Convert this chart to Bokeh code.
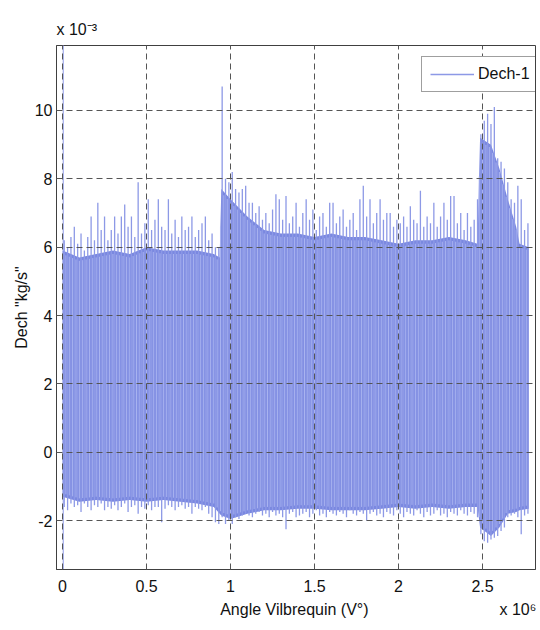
import numpy as np
from bokeh.plotting import figure
from bokeh.models import (Range1d, Legend, LegendItem, FixedTicker, LinearAxis,
                          Title)
from bokeh.embed import file_html
from bokeh.resources import INLINE

# x in units of 1e6 (deg), y in units of 1e-3 (kg/s)
x_start = 0.01
x_step = 0.02
peaks = [
    6.2, 6.0, 6.3, 6.6, 6.1, 6.4, 5.9, 6.3, 6.9, 6.2,
    7.3, 6.5, 6.9, 6.2, 6.5, 6.9, 6.4, 6.9, 7.25, 6.6,
    6.9, 6.3, 7.9, 6.4, 6.7, 7.4, 6.5, 6.8, 7.4, 6.6,
    6.5, 7.4, 6.4, 6.8, 6.3, 6.9, 6.5, 6.6, 6.9, 6.3,
    6.5, 6.7, 6.9, 6.2, 6.4, 6.0, 6.0, 10.7, 8.0, 7.9,
    8.2, 7.7, 7.6, 7.7, 7.8, 7.3, 7.3, 7.0, 7.2, 6.8,
    7.0, 6.7, 7.1, 7.55, 7.4, 6.8, 7.5, 6.7, 6.9, 7.3,
    6.6, 7.0, 7.4, 6.8, 7.1, 6.5, 6.9, 7.0, 6.6, 7.3,
    7.3, 6.7, 6.9, 7.1, 6.6, 6.8, 7.0, 6.5, 7.4, 7.8,
    6.9, 7.4, 6.7, 7.0, 7.4, 6.8, 7.0, 7.0, 6.6, 6.8,
    6.7, 6.9, 6.6, 7.2, 6.8, 6.7, 7.65, 6.6, 6.9, 6.7,
    7.3, 6.6, 6.9, 7.3, 6.8, 7.5, 7.5, 6.7, 7.0, 6.5,
    7.0, 6.6, 6.8, 7.4, 9.3, 9.7, 9.9, 9.6, 10.1, 8.6,
    8.5, 8.3, 7.9, 7.4, 7.3, 7.8, 7.4, 6.5, 6.7,
]
troughs = [
    -1.6, -1.7, -1.5, -1.6, -1.55, -1.75, -1.5, -1.6, -1.7, -1.55,
    -1.6, -1.5, -1.7, -1.6, -1.65, -1.55, -1.7, -1.6, -1.5, -1.75,
    -1.6, -1.55, -1.8, -1.6, -1.65, -1.55, -1.7, -1.6, -1.6, -2.05,
    -1.65, -1.55, -1.6, -1.7, -1.6, -1.55, -1.65, -1.6, -1.8, -1.6,
    -1.65, -1.7, -1.6, -1.8, -1.9, -2.05, -2.1, -1.9, -2.1, -2.0,
    -2.1, -1.9, -1.95, -1.85, -1.8, -1.85, -1.9, -1.8, -1.75, -1.85,
    -1.8, -1.9, -1.75, -1.85, -1.8, -1.9, -2.25, -1.8, -1.75, -1.9,
    -1.85, -1.8, -1.75, -1.9, -1.8, -1.7, -1.85, -1.8, -1.9, -1.75,
    -1.8, -1.85, -1.75, -1.8, -1.9, -1.7, -1.8, -1.85, -1.75, -1.8,
    -2.0, -1.8, -1.75, -1.85, -1.8, -1.9, -1.75, -1.8, -1.85, -1.7,
    -1.8, -1.9, -1.75, -1.8, -1.85, -1.7, -1.8, -1.9, -1.75, -1.85,
    -1.8, -1.7, -1.85, -1.8, -1.9, -1.75, -1.8, -1.85, -1.7, -1.8,
    -1.85, -1.75, -1.8, -1.9, -2.4, -2.6, -2.65, -2.55, -2.5, -2.45,
    -2.3, -2.2, -1.9, -1.85, -1.8, -1.9, -2.4, -1.85, -1.8,
]
core_x = [0.0, 0.1, 0.2, 0.3, 0.4, 0.5, 0.6, 0.7, 0.8, 0.9, 0.935, 0.945,
          1.0, 1.1, 1.2, 1.3, 1.4, 1.5, 1.6, 1.7, 1.8, 1.9, 2.0, 2.1, 2.2,
          2.3, 2.4, 2.47, 2.485, 2.55, 2.6, 2.65, 2.7, 2.72, 2.775]
core_top = [5.9, 5.7, 5.8, 5.9, 5.8, 6.0, 5.9, 5.9, 5.9, 5.8, 5.7, 7.7,
            7.4, 6.9, 6.5, 6.4, 6.4, 6.3, 6.4, 6.3, 6.3, 6.2, 6.1, 6.2, 6.2,
            6.3, 6.2, 6.1, 9.2, 9.0, 8.3, 7.4, 6.6, 6.1, 6.0]
core_bottom = [-1.3, -1.45, -1.4, -1.45, -1.4, -1.45, -1.4, -1.45, -1.5, -1.6,
               -1.8, -1.85, -1.95, -1.8, -1.7, -1.7, -1.65, -1.65, -1.7, -1.7,
               -1.7, -1.65, -1.6, -1.65, -1.6, -1.65, -1.6, -1.6, -2.2, -2.45,
               -2.2, -1.8, -1.75, -1.7, -1.65]
first_x = [0.004]
first_lo = [-6.0]
first_hi = [16.0]

x_ticks = [0, 0.5, 1, 1.5, 2, 2.5]
x_tick_labels = ["0", "0.5", "1", "1.5", "2", "2.5"]
y_ticks = [-2, 0, 2, 4, 6, 8, 10]
y_tick_labels = ["-2", "0", "2", "4", "6", "8", "10"]
x_title = "Angle Vilbrequin (V°)"
y_title = 'Dech "kg/s"'
x_multiplier = "x 10⁶"
y_multiplier = "x 10⁻³"
series_name = "Dech-1"

FONT = "Liberation Sans"
BAND = "#7a88e0"
LIGHT = "#aab4f0"
SPIKE = "#8d99e6"
AXC = "#404040"
TXT = "#111111"

p = figure(frame_width=479, frame_height=524,
           x_range=Range1d(-0.036, 2.815), y_range=Range1d(-3.43, 11.9),
           output_backend="svg", toolbar_location=None,
           min_border_left=56, min_border_right=3, min_border_top=45,
           min_border_bottom=0)
p.title.visible = False
p.background_fill_color = "white"
p.border_fill_color = "white"
p.outline_line_color = AXC
p.outline_line_width = 1

stripe_x = x_start + x_step * np.arange(len(peaks))

p.varea(x=core_x, y1=core_bottom, y2=core_top, fill_color=BAND)
gx = stripe_x + x_step / 2
gx = gx[gx < core_x[-1]]
gt = np.interp(gx, core_x, core_top) - 0.1
gb = np.interp(gx, core_x, core_bottom) + 0.1
p.segment(x0=gx, y0=gb, x1=gx, y1=gt, line_color=LIGHT, line_width=1)
spk = p.segment(x0=stripe_x, y0=troughs, x1=stripe_x, y1=peaks,
                line_color=SPIKE, line_width=1.3)
p.segment(x0=first_x, y0=first_lo, x1=first_x, y1=first_hi,
          line_color=SPIKE, line_width=1)


def style_axis(ax):
    ax.minor_tick_line_color = None
    ax.axis_line_color = AXC
    ax.major_tick_line_color = AXC
    ax.major_tick_in = 4
    ax.major_tick_out = 0
    ax.major_label_text_font = FONT
    ax.major_label_text_font_size = "16px"
    ax.major_label_text_color = TXT
    ax.axis_label_text_font = FONT
    ax.axis_label_text_font_size = "16px"
    ax.axis_label_text_font_style = "normal"
    ax.axis_label_text_color = TXT


for ax, ticks, labels in ((p.xaxis[0], x_ticks, x_tick_labels),
                          (p.yaxis[0], y_ticks, y_tick_labels)):
    ax.ticker = FixedTicker(ticks=ticks)
    ax.major_label_overrides = {t: l for t, l in zip(ticks, labels)}
    style_axis(ax)

p.xaxis[0].major_label_standoff = 10
p.yaxis[0].axis_label = y_title
p.yaxis[0].major_label_standoff = 4
p.yaxis[0].axis_label_standoff = 2

# second row under the x axis: axis title (centred) and the x 10^6 multiplier
x_title_pos = 1.38
x_mult_pos = 2.71
row2 = LinearAxis(ticker=FixedTicker(ticks=[x_title_pos, x_mult_pos]),
                  major_label_overrides={x_title_pos: x_title,
                                         x_mult_pos: x_multiplier})
style_axis(row2)
row2.axis_line_color = None
row2.major_tick_line_color = None
row2.major_label_standoff = 6
p.add_layout(row2, "below")

ymult = Title(text=y_multiplier, align="left", offset=0, standoff=16,
              text_font=FONT, text_font_size="16px",
              text_font_style="normal", text_color=TXT)
p.add_layout(ymult, "above")

for g, ticks in ((p.xgrid[0], x_ticks), (p.ygrid[0], y_ticks)):
    g.ticker = FixedTicker(ticks=ticks)
    g.grid_line_color = "#555555"
    g.grid_line_dash = "6 4"
    g.grid_line_width = 1
    g.level = "overlay"

legend = Legend(items=[LegendItem(label=series_name, renderers=[spk])],
                location=(365, 477))
legend.label_text_font = FONT
legend.label_text_font_size = "16px"
legend.label_text_color = TXT
legend.glyph_width = 44
legend.glyph_height = 18
legend.label_height = 18
legend.label_standoff = 4
legend.padding = 8
legend.margin = 0
legend.border_line_color = AXC
legend.border_line_width = 1
legend.background_fill_color = "white"
legend.background_fill_alpha = 1
p.add_layout(legend)

open("out.html", "w").write(file_html(p, INLINE))
